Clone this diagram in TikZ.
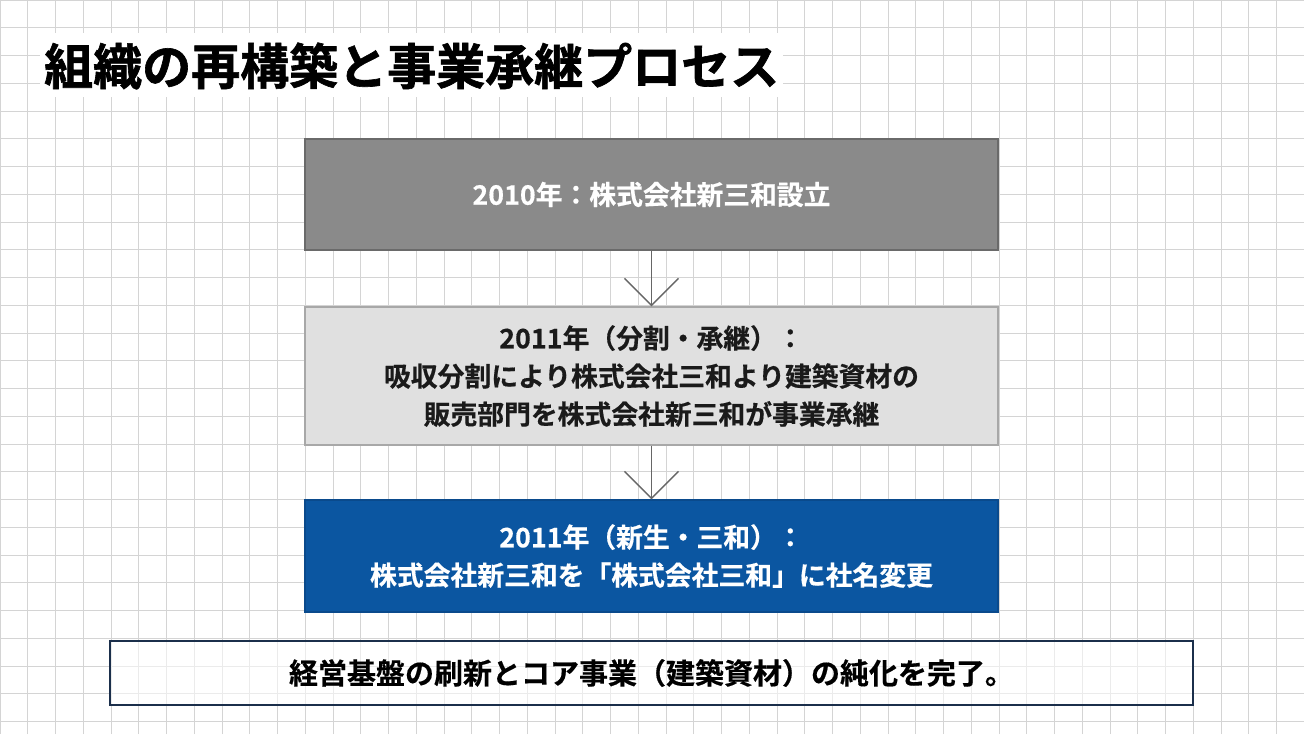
\documentclass[tikz,border=0pt]{standalone}
\usepackage{fontspec}
\setmainfont{Noto Sans CJK JP}[BoldFont={* Bold}]
\newfontfamily\titlefont{Noto Sans CJK JP Bold}[FakeBold=1.3]
\newfontfamily\bodyfont{Noto Sans CJK JP Bold}[FakeBold=0.5]
\usetikzlibrary{arrows.meta}
\definecolor{gridc}{HTML}{D4D4D4}
\definecolor{darkgraybox}{HTML}{8A8A8A}
\definecolor{darkgrayedge}{HTML}{6A6A6A}
\definecolor{lightbox}{HTML}{E0E0E0}
\definecolor{lightedge}{HTML}{A8A8A8}
\definecolor{bluebox}{HTML}{0B56A1}
\definecolor{blueedge}{HTML}{0A4A8C}
\definecolor{navyedge}{HTML}{1B2F4B}
\definecolor{arrowc}{HTML}{666666}
\definecolor{darktext}{HTML}{1A1A1A}
\tikzset{
  stepbox/.style={minimum width=693pt, minimum height=111pt, inner sep=0pt, align=center, line width=1.2pt,
    font=\bodyfont\fontsize{26.8}{38}\selectfont},
  flowarrow/.style={draw=arrowc, line width=1.5pt, -{Straight Barb[length=27pt, width=54pt, line width=1.5pt]}},
}
\begin{document}
\begin{tikzpicture}[x=1pt,y=-1pt]
\useasboundingbox (0,0) rectangle (1304,734);
\fill[white] (0,0) rectangle (1304,734);
\draw[gridc, line width=1pt, step=27.75pt] (0,0) grid (1304,734);
% title
\fill[white] (40,33) rectangle (783,97);
\node[anchor=west, inner sep=0pt, font=\titlefont\fontsize{49}{55}\selectfont] (title) at (44,66) {組織の再構築と事業承継プロセス};
% boxes
\node[stepbox, fill=darkgraybox, draw=darkgrayedge, text=white] (b1) at (651.5,194.5) {2010年：株式会社新三和設立};
\node[stepbox, minimum height=138pt, fill=lightbox, draw=lightedge, text=darktext] (b2) at (651.5,376) {2011年（分割・承継）：\\吸収分割により株式会社三和より建築資材の\\販売部門を株式会社新三和が事業承継};
\node[stepbox, minimum height=112pt, fill=bluebox, draw=blueedge, text=white] (b3) at (651.5,556) {2011年（新生・三和）：\\株式会社新三和を「株式会社三和」に社名変更};
\node[minimum width=1083pt, minimum height=64pt, inner sep=0pt, draw=navyedge, line width=2.6pt, fill=white, fill opacity=0.55, text opacity=1, font=\bodyfont\fontsize{29}{34}\selectfont] (summary) at (651.5,673) {経営基盤の刷新とコア事業（建築資材）の純化を完了。};
% arrows
\draw[flowarrow] (b1.south) -- (b2.north);
\draw[flowarrow] (b2.south) -- (b3.north);
\end{tikzpicture}
\end{document}
